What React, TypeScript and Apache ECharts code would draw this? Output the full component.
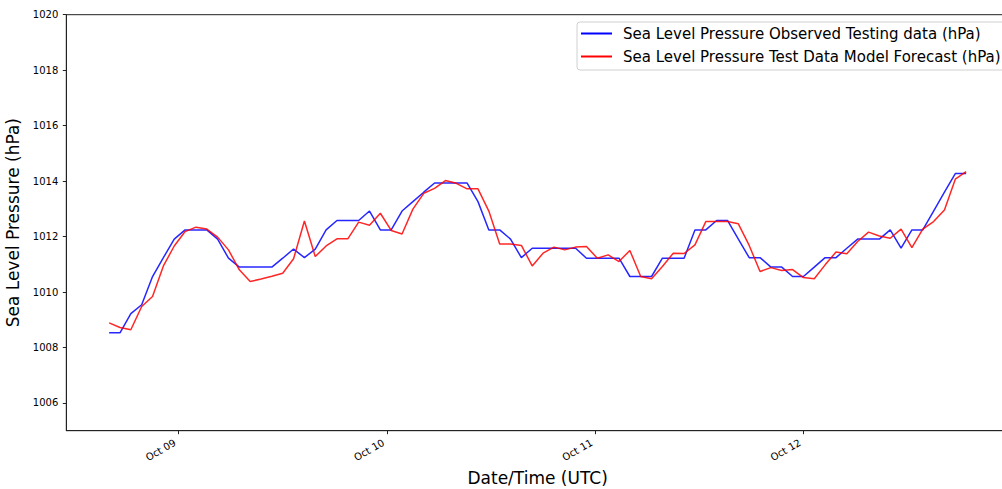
import React, { useEffect, useRef } from "react";
import * as echarts from "echarts";

// Time base: first observation and interval between observations
const START_TIME = Date.UTC(2022, 9, 8, 16, 0);
const STEP_MS = 75 * 60 * 1000;

const observed: number[] = [
  1008.53, 1008.53, 1009.22, 1009.54, 1010.56, 1011.24, 1011.91, 1012.24, 1012.24, 1012.24,
  1011.91, 1011.22, 1010.9, 1010.9, 1010.9, 1010.9, 1011.22, 1011.55, 1011.24, 1011.55,
  1012.24, 1012.58, 1012.58, 1012.58, 1012.92, 1012.24, 1012.24, 1012.92, 1013.26, 1013.6,
  1013.93, 1013.93, 1013.93, 1013.93, 1013.26, 1012.24, 1012.24, 1011.91, 1011.24, 1011.58,
  1011.58, 1011.58, 1011.58, 1011.58, 1011.22, 1011.22, 1011.22, 1011.22, 1010.56, 1010.56,
  1010.56, 1011.22, 1011.22, 1011.22, 1012.24, 1012.24, 1012.58, 1012.58, 1011.91, 1011.24,
  1011.24, 1010.9, 1010.9, 1010.56, 1010.56, 1010.9, 1011.24, 1011.24, 1011.58, 1011.91,
  1011.91, 1011.91, 1012.24, 1011.58, 1012.24, 1012.24, 1012.92, 1013.6, 1014.27, 1014.27,
];

const forecast: number[] = [
  1008.89, 1008.72, 1008.64, 1009.48, 1009.84, 1010.94, 1011.66, 1012.18, 1012.34, 1012.27,
  1011.98, 1011.52, 1010.8, 1010.38, 1010.47, 1010.57, 1010.68, 1011.2, 1012.56, 1011.28,
  1011.66, 1011.92, 1011.92, 1012.52, 1012.41, 1012.84, 1012.22, 1012.09, 1012.99, 1013.56,
  1013.74, 1014.02, 1013.92, 1013.72, 1013.72, 1012.92, 1011.73, 1011.73, 1011.68, 1010.94,
  1011.4, 1011.62, 1011.52, 1011.62, 1011.64, 1011.22, 1011.34, 1011.1, 1011.5, 1010.56,
  1010.48, 1010.92, 1011.4, 1011.39, 1011.7, 1012.54, 1012.54, 1012.54, 1012.46, 1011.68,
  1010.74, 1010.88, 1010.78, 1010.81, 1010.52, 1010.48, 1010.98, 1011.44, 1011.38, 1011.82,
  1012.16, 1012.02, 1011.94, 1012.27, 1011.6, 1012.27, 1012.54, 1012.96, 1014.07, 1014.34,
];

const xTickDates: number[] = [
  Date.UTC(2022, 9, 9),
  Date.UTC(2022, 9, 10),
  Date.UTC(2022, 9, 11),
  Date.UTC(2022, 9, 12),
];
const yTicks: number[] = [1006, 1008, 1010, 1012, 1014, 1016, 1018, 1020];
const Y_MIN = 1005;
const Y_MAX = 1020;

const seriesNames = [
  "Sea Level Pressure Observed Testing data (hPa)",
  "Sea Level Pressure Test Data Model Forecast (hPa)",
];

const FONT = "DejaVu Sans";

export default function App() {
  const ref = useRef<HTMLDivElement>(null);

  useEffect(() => {
    if (!ref.current) return;
    const chart = echarts.init(ref.current, null, { renderer: "svg" });
    const times = observed.map((_, i) => START_TIME + i * STEP_MS);
    const span = times[times.length - 1] - times[0];
    const xMin = times[0] - span * 0.05;
    const xMax = times[times.length - 1] + span * 0.05;

    chart.setOption({
      animation: false,
      backgroundColor: "#fff",
      textStyle: { fontFamily: FONT },
      grid: {
        left: 66.3,
        top: 14.7,
        right: 11,
        bottom: 58.3,
        show: true,
        borderColor: "#222",
        borderWidth: 1,
        backgroundColor: "transparent",
        containLabel: false,
        outerBoundsMode: "none",
      },
      legend: {
        orient: "vertical",
        left: 577,
        top: 22,
        align: "left",
        icon: "rect",
        itemWidth: 31,
        itemHeight: 2,
        itemGap: 8,
        padding: [4, 6, 6, 4],
        backgroundColor: "rgba(255,255,255,0.8)",
        borderColor: "#d0d0d0",
        borderWidth: 1,
        borderRadius: 3,
        textStyle: {
          fontFamily: FONT,
          fontSize: 15,
          color: "#000",
          padding: [0, 0, 0, 6],
        },
        data: seriesNames,
      },
      xAxis: {
        type: "value",
        min: xMin,
        max: xMax,
        name: "Date/Time (UTC)",
        nameLocation: "middle",
        nameGap: 33,
        nameTextStyle: { fontFamily: FONT, fontSize: 17, color: "#000" },
        splitLine: { show: false },
        axisLine: { show: true, lineStyle: { color: "#222", width: 1 } },
        axisTick: {
          show: true,
          length: 3.5,
          lineStyle: { color: "#222" },
          customValues: xTickDates,
        },
        axisLabel: {
          customValues: xTickDates,
          rotate: 30,
          margin: 9,
          padding: [0, 4, 0, 0],
          fontFamily: FONT,
          fontSize: 10,
          color: "#000",
          formatter: (v: number) => {
            const d = new Date(v);
            return "Oct " + String(d.getUTCDate()).padStart(2, "0");
          },
        },
      },
      yAxis: {
        type: "value",
        min: Y_MIN,
        max: Y_MAX,
        name: "Sea Level Pressure (hPa)",
        nameLocation: "middle",
        nameGap: 35,
        nameTextStyle: { fontFamily: FONT, fontSize: 17, color: "#000" },
        splitLine: { show: false },
        axisLine: { show: true, lineStyle: { color: "#222", width: 1 } },
        axisTick: {
          show: true,
          length: 3.5,
          lineStyle: { color: "#222" },
          customValues: yTicks,
        },
        axisLabel: {
          customValues: yTicks,
          margin: 8,
          fontFamily: FONT,
          fontSize: 10,
          color: "#000",
          formatter: (v: number) => String(v),
        },
      },
      series: [
        {
          name: seriesNames[0],
          type: "line",
          data: times.map((t, i) => [t, observed[i]]),
          showSymbol: false,
          symbol: "none",
          lineStyle: { color: "#0000ff", width: 1.5, opacity: 0.85 },
          itemStyle: { color: "#0000ff" },
        },
        {
          name: seriesNames[1],
          type: "line",
          data: times.map((t, i) => [t, forecast[i]]),
          showSymbol: false,
          symbol: "none",
          lineStyle: { color: "#ff0000", width: 1.5, opacity: 0.85 },
          itemStyle: { color: "#ff0000" },
        },
      ],
    });

    return () => chart.dispose();
  }, []);

  return (
    <div
      style={{
        position: "absolute",
        left: 0,
        top: 0,
        width: 1002,
        height: 489,
        overflow: "hidden",
        background: "#fff",
      }}
    >
      <div ref={ref} style={{ width: 1020, height: 489 }} />
    </div>
  );
}
